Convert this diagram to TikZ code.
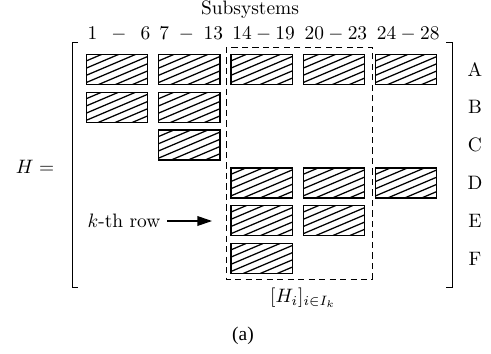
\documentclass[tikz,border=0pt]{standalone}
\usepackage{fontspec}
\newfontfamily\capfont{Liberation Serif}
\usetikzlibrary{arrows.meta}

\begin{document}
\begin{tikzpicture}[x=0.515pt, y=0.515pt,
  >={Triangle[length=7.5pt,width=5pt]},
  cell/.style={rectangle, draw, line width=.7pt, minimum width=31.5pt, minimum height=15.5pt, inner sep=0pt,
    path picture={
      \foreach \k in {-4,...,4}
        \draw[line width=.65pt]
          ([xshift=\k*8.75pt-25pt, yshift=-10.6pt]path picture bounding box.center) --
          ([xshift=\k*8.75pt+25pt, yshift=10.6pt]path picture bounding box.center);
    }},
  colhead/.style={inner sep=0pt},
  rowlabel/.style={inner sep=0pt},
  bracket/.style={line width=.45pt},
  sel/.style={line width=.5pt, dash pattern=on 3.2pt off 2.2pt},
]
\useasboundingbox (0,0) rectangle (491,353);

% ---------- title and column ranges ----------
\node (title) at (250,343) {Subsystems};
\foreach \c/\txt in {1/{1\enspace-\enspace6}, 2/{7\;-\;13}, 3/{14-19}, 4/{20-23}, 5/{24-28}}
  \node[colhead] (h\c) at ({119+72.3*(\c-1)},319) {$\txt$};

% ---------- hatched blocks and row letters ----------
\foreach \r/\cs [count=\i] in {A/{1,2,3,4,5}, B/{1,2}, C/{2}, D/{3,4,5}, E/{3,4}, F/{3}} {
  \node[rowlabel] (l\r) at (475,{283.5-37.8*(\i-1)}) {\r};
  \foreach \c in \cs
    \node[cell] (b\r\c) at ({117+72.3*(\c-1)},{283.5-37.8*(\i-1)}) {};
}

% ---------- matrix brackets ----------
\draw[bracket] (78,311) -- (72,311) -- (72,66) -- (78,66);
\draw[bracket] (446,311) -- (452,311) -- (452,66) -- (446,66);
\node (hlabel) at (35,186) {$H =$};

% ---------- selected sub-block ----------
\draw[sel] (226,306) rectangle (372,74);
\node (hsub) at (303,55) {$[H_i]_{i\in I_k}$};

% ---------- k-th row pointer ----------
\node (krow) at (124,132) {$k$-th row};
\coordinate (kend) at (212,132);
\draw[->, line width=.6pt] (krow) -- (kend);

\node (cap) at (243,17.5) {\capfont (a)};

\end{tikzpicture}
\end{document}
